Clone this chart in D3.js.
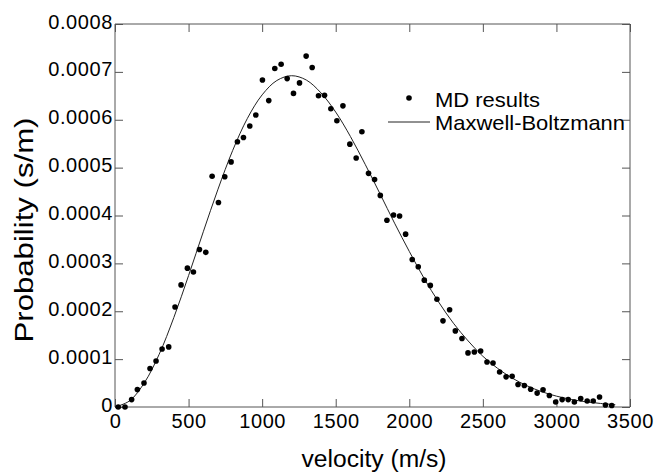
<!DOCTYPE html>
<html>
<head>
<meta charset="utf-8">
<script src="https://cdn.jsdelivr.net/npm/d3@7.9.0/dist/d3.min.js"></script>
<style>
  body { margin: 0; background: #fff; }
  svg { display: block; font-family: "Liberation Sans", Arial, Helvetica, sans-serif; }
  .axis path, .axis line { stroke: #555; }
  .axis text { font-size: 20px; fill: #000; letter-spacing: 0.6px; }
</style>
</head>
<body>
<svg width="658" height="473"></svg>
<script>
// MD simulation histogram (velocity in m/s, probability in s/m)
const mdVelocity = [22, 68, 113, 152, 197, 238, 279, 320, 365, 408, 449, 492, 533, 574, 617, 660, 703, 746, 789, 832,
    873, 916, 957, 1002, 1045, 1086, 1129, 1170, 1213, 1254, 1299, 1340, 1383, 1424, 1467, 1508, 1549, 1596, 1639, 1678,
    1723, 1764, 1803, 1848, 1893, 1934, 1975, 2020, 2061, 2102, 2143, 2188, 2229, 2274, 2313, 2358, 2399, 2442, 2485, 2528,
    2569, 2614, 2658, 2699, 2739, 2782, 2825, 2869, 2909, 2952, 2995, 3039, 3080, 3122, 3165, 3209, 3250, 3293, 3333, 3376];
const mdProbability = [0, 0, 0.0000155, 0.0000364, 0.0000502, 0.0000803, 0.0000962, 0.000121, 0.0001255, 0.000209,
    0.000255, 0.00029, 0.000282, 0.000329, 0.000323, 0.000482, 0.000427, 0.000481, 0.000512, 0.000554,
    0.000563, 0.000587, 0.00061, 0.000683, 0.00064, 0.000707, 0.000716, 0.000686, 0.000655, 0.000677,
    0.000733, 0.000709, 0.00065, 0.000651, 0.000623, 0.000598, 0.000629, 0.000549, 0.00052, 0.000575,
    0.000488, 0.000475, 0.000442, 0.00039, 0.000401, 0.000399, 0.000361, 0.000308, 0.000293, 0.000265,
    0.000254, 0.000225, 0.00018, 0.000203, 0.000159, 0.000143, 0.000113, 0.000115, 0.000117, 0.000094,
    0.000092, 0.000073, 0.000063, 0.000064, 0.000047, 0.000045, 0.000037, 0.000029, 0.000036, 0.000024,
    0.0000105, 0.0000155, 0.0000155, 0.0000105, 0.0000175, 0.0000125, 0.0000125, 0.000021, 0.0000042, 0.000003];

// Maxwell-Boltzmann curve
const mbVelocity = [0, 100, 200, 300, 400, 500, 600, 700, 800, 900, 1000, 1100, 1200, 1300, 1400, 1500, 1600,
    1700, 1800, 1900, 2000, 2100, 2200, 2300, 2400, 2500, 2600, 2700, 2800, 2900, 3000, 3100, 3200, 3300, 3400];
const mbProbability = [0, 0.000013, 0.0000508, 0.00011, 0.000187, 0.0002745, 0.000366, 0.000455, 0.000536, 0.000603,
    0.000652, 0.000682, 0.000692, 0.000683, 0.000656, 0.000616, 0.000565, 0.000507, 0.000446, 0.000384,
    0.000325, 0.000269, 0.000219, 0.000175, 0.000138, 0.000106, 0.0000808, 0.0000603, 0.0000443, 0.000032,
    0.0000227, 0.0000159, 0.0000109, 0.0000074, 0.0000049];

const xTicks = [0, 500, 1000, 1500, 2000, 2500, 3000, 3500];
const yTicks = [0, 0.0001, 0.0002, 0.0003, 0.0004, 0.0005, 0.0006, 0.0007, 0.0008];
const legendLabels = ['MD results', 'Maxwell-Boltzmann'];

const width = 658, height = 473;
const margin = { top: 24, right: 28, bottom: 66, left: 115 };

const svg = d3.select('svg');

let x = d3.scaleLinear().domain([0, 3500]).range([margin.left, width - margin.right]);
let y = d3.scaleLinear().domain([0, 0.0008]).range([height - margin.bottom, margin.top]);

const yFmt = (d) => d === 0 ? '0' : d3.format('.4f')(d);

// Frame: labelled bottom/left axes, bare top/right axes, all ticks inward
svg.append('g')
    .attr('class', 'axis')
    .attr('transform', `translate(0,${height - margin.bottom})`)
    .call(d3.axisBottom(x).tickValues(xTicks).tickSize(-8).tickPadding(7).tickFormat(d3.format('d')))
    .call(g => g.select('.domain').attr('d', `M${margin.left},0H${width - margin.right}`));

svg.append('g')
    .attr('class', 'axis')
    .attr('transform', `translate(${margin.left},0)`)
    .call(d3.axisLeft(y).tickValues(yTicks).tickSize(-8).tickPadding(2).tickFormat(yFmt))
    .call(g => g.select('.domain').attr('d', `M0,${margin.top}V${height - margin.bottom}`))
    .call(g => g.selectAll('text').attr('dy', '0.2em'));

svg.append('g')
    .attr('class', 'axis')
    .attr('transform', `translate(0,${margin.top})`)
    .call(d3.axisTop(x).tickValues(xTicks).tickSize(-8).tickFormat(''))
    .call(g => g.select('.domain').attr('d', `M${margin.left},0H${width - margin.right}`));

svg.append('g')
    .attr('class', 'axis')
    .attr('transform', `translate(${width - margin.right},0)`)
    .call(d3.axisRight(y).tickValues(yTicks).tickSize(-8).tickFormat(''))
    .call(g => g.select('.domain').attr('d', `M0,${margin.top}V${height - margin.bottom}`));

// Theory curve
let mbData = mbVelocity.map((v, i) => ({ v, p: mbProbability[i] }));
let line = d3.line()
    .x(d => x(d.v))
    .y(d => y(d.p))
    .curve(d3.curveCatmullRom);

svg.append('path')
    .datum(mbData)
    .attr('fill', 'none')
    .attr('stroke', '#222')
    .attr('stroke-width', 1)
    .attr('d', line);

// Simulation points
let mdData = mdVelocity.map((v, i) => ({ v, p: mdProbability[i] }));
svg.append('g')
    .selectAll('circle')
    .data(mdData)
    .join('circle')
    .attr('cx', d => x(d.v))
    .attr('cy', d => y(d.p))
    .attr('r', 2.8)
    .attr('fill', '#000');

// Legend
let legend = svg.append('g').attr('transform', 'translate(409,98)');
legend.append('circle').attr('cx', 0).attr('cy', 0).attr('r', 2.8).attr('fill', '#000');
legend.append('text')
    .attr('x', 26).attr('y', 8.5)
    .attr('font-size', 21)
    .attr('textLength', 105).attr('lengthAdjust', 'spacingAndGlyphs')
    .text(legendLabels[0]);
legend.append('line')
    .attr('x1', -21).attr('x2', 21).attr('y1', 24).attr('y2', 24)
    .attr('stroke', '#222').attr('stroke-width', 1);
legend.append('text')
    .attr('x', 26).attr('y', 31.5)
    .attr('font-size', 21)
    .attr('textLength', 190).attr('lengthAdjust', 'spacingAndGlyphs')
    .text(legendLabels[1]);

// Axis titles
svg.append('text')
    .attr('x', 374).attr('y', 467)
    .attr('text-anchor', 'middle')
    .attr('font-size', 23)
    .attr('textLength', 145).attr('lengthAdjust', 'spacingAndGlyphs')
    .text('velocity (m/s)');

svg.append('text')
    .attr('transform', 'translate(33,230) rotate(-90)')
    .attr('text-anchor', 'middle')
    .attr('font-size', 25)
    .attr('textLength', 225).attr('lengthAdjust', 'spacingAndGlyphs')
    .text('Probability (s/m)');
</script>
</body>
</html>
